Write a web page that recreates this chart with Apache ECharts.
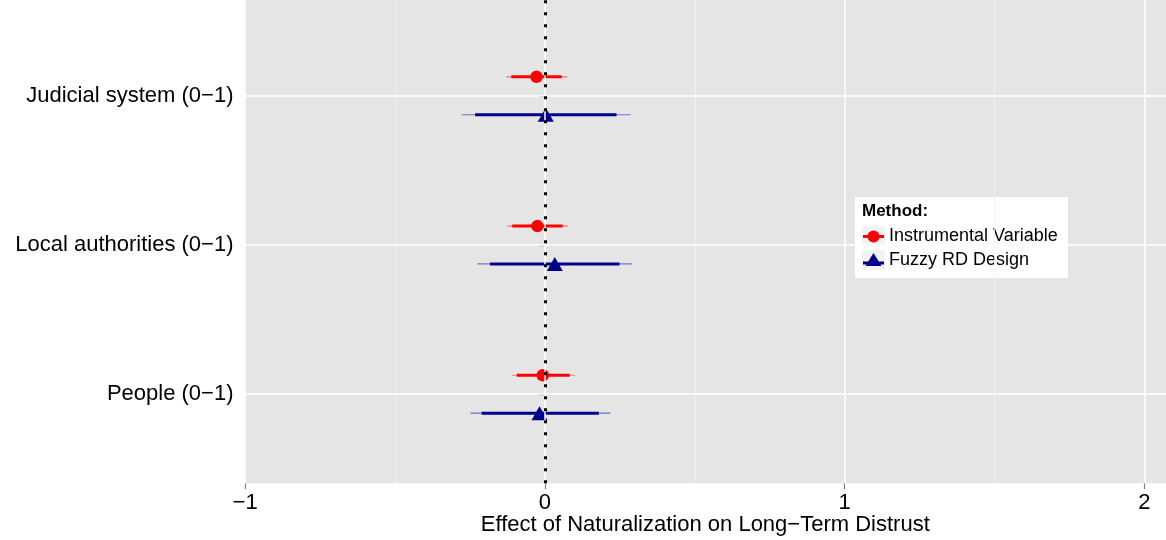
<!DOCTYPE html>
<html>
<head>
<meta charset="utf-8" />
<script src="https://cdn.jsdelivr.net/npm/echarts@6/dist/echarts.min.js"></script>
<style>
  * { margin: 0; padding: 0; }
  body { background: #fff; }
  #chart { width: 1166px; height: 540px; }
</style>
</head>
<body>
<div id="chart"></div>
<script>
// rows from bottom (y = 1) to top (y = 3)
var categories = ['People (0\u22121)', 'Local authorities (0\u22121)', 'Judicial system (0\u22121)'];
var xTicks = [-1, 0, 1, 2];
var xMinor = [-0.5, 0.5, 1.5];

// Instrumental Variable
var ivEst  = [-0.007, -0.025, -0.028];
var ivLo90 = [-0.094, -0.109, -0.112];
var ivHi90 = [0.083, 0.059, 0.056];
var ivLo95 = [-0.111, -0.125, -0.129];
var ivHi95 = [0.100, 0.077, 0.075];

// Fuzzy RD Design
var rdEst  = [-0.018, 0.033, 0.003];
var rdLo90 = [-0.211, -0.183, -0.233];
var rdHi90 = [0.180, 0.249, 0.239];
var rdLo95 = [-0.248, -0.225, -0.278];
var rdHi95 = [0.219, 0.291, 0.286];

var dodge = 0.127;
var RED = '#ff0000', BLUE = '#00008b';

function rowY(i, side) { return i + 1 + side * dodge; }

function pts(est, side) {
  return est.map(function (v, i) { return [v, rowY(i, side)]; });
}
function segs(lo, hi, side) {
  return lo.map(function (v, i) { return [v, hi[i], rowY(i, side)]; });
}

function intervalSeries(data, color, width, opacity) {
  return {
    type: 'custom',
    silent: true,
    z: 3,
    data: data,
    renderItem: function (params, api) {
      var y = api.value(2);
      var a = api.coord([api.value(0), y]);
      var b = api.coord([api.value(1), y]);
      return {
        type: 'line',
        shape: { x1: a[0], y1: a[1], x2: b[0], y2: b[1] },
        style: { stroke: color, lineWidth: width, opacity: opacity }
      };
    }
  };
}

var chart = echarts.init(document.getElementById('chart'));

var gridLines = [];
xTicks.forEach(function (v) {
  gridLines.push({ xAxis: v, lineStyle: { color: '#ffffff', width: 1.5, type: 'solid' } });
});
xMinor.forEach(function (v) {
  gridLines.push({ xAxis: v, lineStyle: { color: '#f2f2f2', width: 0.8, type: 'solid' } });
});
categories.forEach(function (c, i) {
  gridLines.push({ yAxis: i + 1, lineStyle: { color: '#ffffff', width: 1.5, type: 'solid' } });
});

var font = "'Liberation Sans', Arial, sans-serif";

chart.setOption({
  animation: false,
  grid: {
    left: 244.5, right: 0, top: 0, bottom: 56.7,
    outerBoundsMode: 'none',
    containLabel: false,
    show: true, backgroundColor: '#e5e5e5', borderWidth: 0
  },
  xAxis: {
    type: 'value',
    min: -1.002, max: 2.072,
    name: 'Effect of Naturalization on Long\u2212Term Distrust',
    nameLocation: 'middle',
    nameGap: 31,
    nameMoveOverlap: false,
    nameTextStyle: { fontSize: 22, color: '#000', fontFamily: font },
    axisLine: { show: false },
    axisTick: { show: true, customValues: xTicks, length: 6, lineStyle: { color: '#7f7f7f', width: 1.2 } },
    axisLabel: {
      customValues: xTicks, fontSize: 22, color: '#000', fontFamily: font, margin: 9,
      formatter: function (v) { return v < 0 ? '\u2212' + Math.abs(v) : String(v); }
    },
    splitLine: { show: false }
  },
  yAxis: {
    type: 'value',
    min: 0.403, max: 3.642,
    axisLine: { show: false },
    axisTick: { show: true, customValues: [1, 2, 3], length: 6, lineStyle: { color: '#7f7f7f', width: 1.2 } },
    axisLabel: {
      customValues: [1, 2, 3], fontSize: 22, color: '#000', fontFamily: font, margin: 11,
      formatter: function (v) { return categories[Math.round(v) - 1]; }
    },
    splitLine: { show: false }
  },
  graphic: [
    {
      type: 'group', left: 855, top: 197, z: 100,
      children: [
        { type: 'rect', shape: { x: 0, y: 0, width: 213, height: 81 }, style: { fill: '#ffffff' } },
        { type: 'text', x: 7, y: 14, style: { text: 'Method:', font: 'bold 17px ' + font, fill: '#000', verticalAlign: 'middle' } },
        { type: 'rect', shape: { x: 7, y: 29, width: 23, height: 20 }, style: { fill: '#f2f2f2' } },
        { type: 'line', shape: { x1: 8, y1: 39.5, x2: 29, y2: 39.5 }, style: { stroke: RED, lineWidth: 3 } },
        { type: 'circle', shape: { cx: 18.5, cy: 39.5, r: 6 }, style: { fill: RED } },
        { type: 'text', x: 34, y: 39.5, style: { text: 'Instrumental Variable', font: '18px ' + font, fill: '#000', verticalAlign: 'middle' } },
        { type: 'rect', shape: { x: 7, y: 53, width: 23, height: 20 }, style: { fill: '#f2f2f2' } },
        { type: 'line', shape: { x1: 8, y1: 66, x2: 29, y2: 66 }, style: { stroke: BLUE, lineWidth: 3 } },
        { type: 'polygon', shape: { points: [[18.5, 56], [26.5, 69], [10.5, 69]] }, style: { fill: BLUE } },
        { type: 'text', x: 34, y: 63.5, style: { text: 'Fuzzy RD Design', font: '18px ' + font, fill: '#000', verticalAlign: 'middle' } }
      ]
    }
  ],
  series: [
    {
      type: 'scatter', data: [], silent: true, z: 1,
      markLine: { silent: true, symbol: 'none', label: { show: false }, animation: false, data: gridLines }
    },
    intervalSeries(segs(ivLo95, ivHi95, 1), RED, 1.2, 0.5),
    intervalSeries(segs(ivLo90, ivHi90, 1), RED, 3, 1),
    intervalSeries(segs(rdLo95, rdHi95, -1), BLUE, 1.2, 0.5),
    intervalSeries(segs(rdLo90, rdHi90, -1), BLUE, 3, 1),
    {
      name: 'Instrumental Variable', type: 'scatter', z: 4, silent: true,
      symbol: 'circle', symbolSize: 12.5,
      itemStyle: { color: RED, opacity: 1 },
      data: pts(ivEst, 1)
    },
    {
      name: 'Fuzzy RD Design', type: 'scatter', z: 4, silent: true,
      symbol: 'triangle', symbolSize: [16, 14],
      itemStyle: { color: BLUE, opacity: 1 },
      data: pts(rdEst, -1)
    },
    {
      type: 'scatter', data: [], silent: true, z: 5,
      markLine: {
        silent: true, symbol: 'none', label: { show: false }, animation: false,
        data: [{ xAxis: 0, lineStyle: { color: '#000', width: 3, type: [3, 9] } }]
      }
    }
  ]
});
</script>
</body>
</html>
